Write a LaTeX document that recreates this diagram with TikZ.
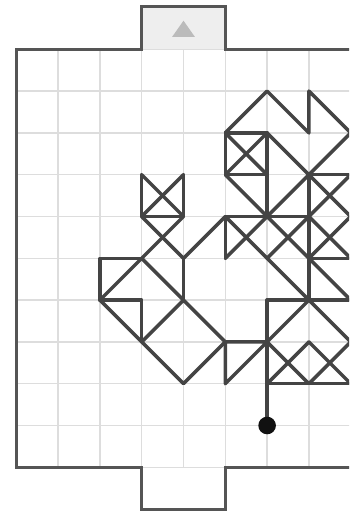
\documentclass[tikz,border=0pt]{standalone}
\definecolor{gridc}{HTML}{DDDDDD}
\definecolor{borderc}{HTML}{555555}
\definecolor{tabc}{HTML}{EEEEEE}
\definecolor{triac}{HTML}{BBBBBB}
\definecolor{shapec}{HTML}{444444}
\definecolor{dotc}{HTML}{111111}
\tikzset{
  gridline/.style={draw=gridc, line width=1.5pt},
  borderline/.style={draw=borderc, line width=3pt, line join=miter},
  shp/.style={draw=shapec, line width=3.5pt, line cap=round, line join=round},
}
\begin{document}
\begin{tikzpicture}[x=1pt,y=-1pt]
\useasboundingbox (0,0) rectangle (349,513);
\clip (0,0) rectangle (349,513);
\begin{scope}[shift={(16.3,49.3)}, x=41.8pt, y=-41.8pt]
  % top tab fill
  \fill[tabc] (3,-1.03) rectangle (5,0);
  \fill[triac] (3.73,-0.30) -- (4,-0.684) -- (4.27,-0.30) -- cycle;
  % grid
  \foreach \c in {1,...,8} \draw[gridline] (\c,0) -- (\c,10);
  \foreach \r in {0,...,10} \draw[gridline] (0,\r) -- (8.5,\r);
  % border
  \draw[borderline] (8.5,0) -- (5,0) -- (5,-1.03) -- (3,-1.03) -- (3,0) -- (0,0)
     -- (0,10) -- (3,10) -- (3,11) -- (5,11) -- (5,10) -- (8.5,10);
  % right cluster
  \draw[shp] (5,2) -- (6,1) -- (7,2) -- (7,1) -- (8,2) -- (6,4) -- (5,3) -- (6,2) -- (7,3);
  \draw[shp] (5,2) rectangle (6,3);
  \draw[shp] (5,2) -- (6,3);
  \draw[shp] (6,2) -- (6,4);
  \draw[shp] (7,3) -- (8,3);
  \draw[shp] (7,3) -- (7,6);
  \draw[shp] (7,3) -- (8,4);
  \draw[shp] (8,3) -- (6,5);
  \draw[shp] (5,4) -- (7,4);
  \draw[shp] (5,4) -- (5,5);
  \draw[shp] (5,4) -- (7,6);
  \draw[shp] (6,4) -- (5,5);
  \draw[shp] (6,4) -- (8,6);
  \draw[shp] (7,4) -- (8,5);
  \draw[shp] (8,4) -- (7,5);
  \draw[shp] (7,5) -- (8,5);
  \draw[shp] (5,4) -- (4,5);
  \draw[shp] (6,6) -- (8,6);
  \draw[shp] (7,6) -- (8,7) -- (7,8);
  \draw[shp] (7,6) -- (5,8) -- (5,7) -- (6,7);
  \draw[shp] (6,6) -- (6,9);
  \draw[shp] (6,7) -- (7,8);
  \draw[shp] (7,7) -- (6,8);
  \draw[shp] (7,7) -- (8,8);
  \draw[shp] (6,8) -- (8,8);
  % left cluster
  \draw[shp] (3,3) -- (3,4) -- (4,4) -- (4,3);
  \draw[shp] (3,3) -- (4,4);
  \draw[shp] (4,3) -- (3,4);
  \draw[shp] (3,4) -- (4,5);
  \draw[shp] (4,4) -- (3,5);
  \draw[shp] (4,5) -- (4,6);
  \draw[shp] (3,5) -- (2,5) -- (2,6) -- (3,6) -- (3,7);
  \draw[shp] (3,5) -- (2,6);
  \draw[shp] (3,5) -- (4,6);
  \draw[shp] (2,6) -- (3,7);
  \draw[shp] (4,6) -- (3,7) -- (4,8) -- (5,7) -- (4,6);
  % dot
  \fill[dotc] (6,9) circle[radius=8.8pt];
\end{scope}
\end{tikzpicture}
\end{document}
